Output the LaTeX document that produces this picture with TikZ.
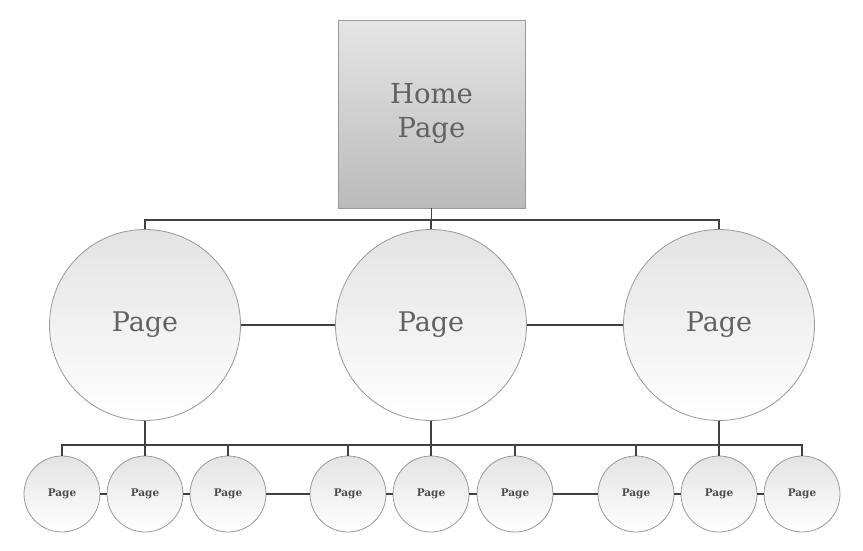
\documentclass[tikz,border=0pt]{standalone}
\usepackage{fontspec}
\setmainfont{DejaVu Serif}
\begin{document}
\begin{tikzpicture}[x=1pt,y=-1pt,
  conn/.style={draw=black!75,line width=1.6pt},
  homebox/.style={draw=black!40,line width=0.8pt,minimum width=187pt,minimum height=188pt,
    inner sep=0pt,top color=black!10,bottom color=black!27,align=center,
    font=\fontsize{27.5}{34}\selectfont,text=black!62},
  bigpage/.style={circle,draw=black!40,line width=0.8pt,minimum size=191pt,inner sep=0pt,
    top color=black!11,bottom color=white,font=\fontsize{27}{30}\selectfont,text=black!62},
  smallpage/.style={circle,draw=black!40,line width=0.8pt,minimum size=76pt,inner sep=0pt,
    top color=black!11,bottom color=white,font=\fontsize{10.5}{12}\selectfont\bfseries,text=black!70}]
\useasboundingbox (0,0) rectangle (863,550);
\fill[white] (0,0) rectangle (863,550);
\coordinate (top) at (431.5,220);
\coordinate (low) at (431.5,445);
\node[homebox] (home) at (431.5,114) {Home\\Page};
\node[bigpage] (b1) at (145,325) {Page};
\node[bigpage] (b2) at (431,325) {Page};
\node[bigpage] (b3) at (719,325) {Page};
\foreach \i/\x in {1/62,2/145,3/228,4/348,5/431,6/515,7/636,8/719,9/802}
  \node[smallpage] (s\i) at (\x,494) {Page};
\draw[conn] (home.south) -- (home.south |- top);
\draw[conn] (b1.north) -- (b1.north |- top) -- (b3.north |- top) -- (b3.north);
\draw[conn] (b2.north) -- (b2.north |- top);
\draw[conn] (b1.east) -- (b2.west);
\draw[conn] (b2.east) -- (b3.west);
\draw[conn] (s1.north) -- (s1.north |- low) -- (s9.north |- low) -- (s9.north);
\foreach \i in {2,...,8} \draw[conn] (s\i.north) -- (s\i.north |- low);
\foreach \b in {1,2,3} \draw[conn] (b\b.south) -- (b\b.south |- low);
\foreach \i/\j in {1/2,2/3,3/4,4/5,5/6,6/7,7/8,8/9} \draw[conn] (s\i.east) -- (s\j.west);
\end{tikzpicture}
\end{document}
